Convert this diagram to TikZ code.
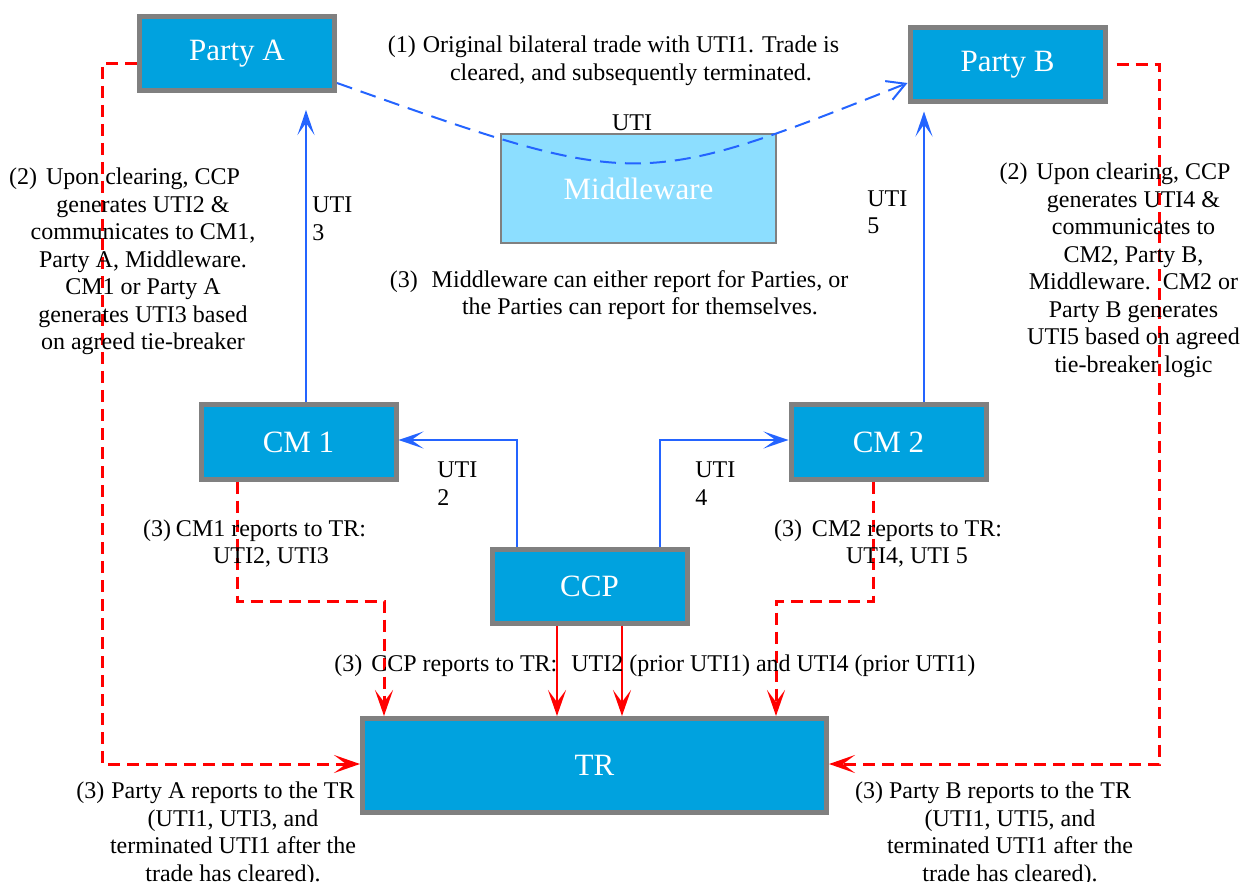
\documentclass[tikz,border=0pt]{standalone}
\usepackage{fontspec}
\setmainfont{Liberation Serif}
\usetikzlibrary{arrows.meta}
\definecolor{boxblue}{RGB}{0,162,223}
\definecolor{mwblue}{RGB}{140,222,255}
\definecolor{bordergrey}{RGB}{128,128,128}
\definecolor{lineblue}{RGB}{36,100,255}
\definecolor{linered}{RGB}{255,0,0}
\begin{document}
\begin{tikzpicture}[x=0.5pt,y=-0.5pt,
  entity/.style={draw=bordergrey, line width=2.5pt, fill=boxblue, text=white,
    font=\fontsize{15.5}{18}\selectfont, minimum width=97.5pt, minimum height=37pt, inner sep=0pt},
  note/.style={inner sep=0pt, align=center, font=\fontsize{12}{13.75}\selectfont},
  utilabel/.style={inner sep=0pt, align=left, anchor=west, font=\fontsize{12}{13.75}\selectfont},
  bluearrow/.style={draw=lineblue, line width=1pt, -{Stealth[length=12.5pt,width=8.5pt,inset=6pt]}},
  bluedash/.style={draw=lineblue, line width=1pt, dash pattern=on 8pt off 4.5pt, -{Straight Barb[length=9pt,width=10pt]}},
  redarrow/.style={draw=linered, line width=1.3pt, -{Stealth[length=13pt,width=9pt,inset=6pt]}},
  reddash/.style={draw=linered, line width=1.5pt, dash pattern=on 6pt off 3.5pt, -{Stealth[length=13pt,width=9pt,inset=6pt]}},
]
\useasboundingbox (0,0) rectangle (1243,882);

% Middleware
\node[draw=bordergrey, line width=1pt, fill=mwblue, text=white, font=\fontsize{15.5}{18}\selectfont,
  minimum width=137.5pt, minimum height=54.5pt, inner sep=0pt] (mw) at (638.5,188.5) {Middleware};

% entities
\node[entity] (pa) at (237,53.5) {Party A};
\node[entity] (pb) at (1007.5,65) {Party B};
\node[entity] (cm1) at (298.5,442) {CM 1};
\node[entity] (cm2) at (888.5,442) {CM 2};
\node[entity] (ccp) at (589.5,586) {CCP};
\node[entity, minimum width=232pt, minimum height=47pt] (tr) at (594.5,765.5) {TR};

% bilateral trade
\draw[bluedash] (pa.east |- 0,83) .. controls (638,190) and (638,190) .. (pb.west |- 0,83);

% blue UTI flows
\draw[bluearrow, shorten >=8.5pt] (cm1.north -| 306,0) -- (pa.south -| 306,0);
\draw[bluearrow, shorten >=3.5pt] (cm2.north -| 924,0) -- (pb.south -| 924,0);
\draw[bluearrow] (ccp.north -| 517,0) |- (cm1.east |- 0,440);
\draw[bluearrow] (ccp.north -| 660,0) |- (cm2.west |- 0,440);

% red reporting
\draw[redarrow] (ccp.south -| 557,0) -- (tr.north -| 557,0);
\draw[redarrow] (ccp.south -| 622,0) -- (tr.north -| 622,0);
\draw[reddash] (cm1.south -| 237,0) |- (384,601) -- (tr.north -| 384,0);
\draw[reddash] (cm2.south -| 873,0) |- (776,601) -- (tr.north -| 776,0);
\draw[reddash] (pa.west |- 0,64) -- (102,64) |- (tr.west |- 0,764);
\draw[reddash, shorten <=4.5pt] (pb.east |- 0,65) -- (1159,65) |- (tr.east |- 0,764);

% labels
\node[note] (uti1) at (632,123) {UTI};
\node[utilabel] (uti3) at (312,219) {UTI\\3};
\node[utilabel] (uti5) at (867,212.5) {UTI\\5};
\node[utilabel] (uti2) at (437,483.5) {UTI\\2};
\node[utilabel] (uti4) at (695,483.5) {UTI\\4};

\node[note] (t1) at (631,61) {\leavevmode\llap{(1)\hspace{3.5pt}}Original bilateral trade with UTI1. Trade is\\cleared, and subsequently terminated.};
\node[note] (t3mw) at (640,295) {\leavevmode\llap{(3)\hspace{7pt}}Middleware can either report for Parties, or\\the Parties can report for themselves.};
\node[note] (t2a) at (143,261.5) {\leavevmode\llap{(2)\hspace{4.5pt}}Upon clearing, CCP\\generates UTI2 \&\\communicates to CM1,\\Party A, Middleware.\\CM1 or Party A\\generates UTI3 based\\on agreed tie-breaker};
\node[note] (t2b) at (1133.5,270.5) {\leavevmode\llap{(2)\hspace{4.5pt}}Upon clearing, CCP\\generates UTI4 \&\\communicates to\\CM2, Party B,\\Middleware.\ \ CM2 or\\Party B generates\\UTI5 based on agreed\\tie-breaker logic};
\node[note] (tcm1) at (271,543.5) {\leavevmode\llap{(3)\hspace{2.5pt}}CM1 reports to TR:\\UTI2, UTI3};
\node[note] (tcm2) at (907,543.5) {\leavevmode\llap{(3)\hspace{5pt}}CM2 reports to TR:\\UTI4, UTI 5};
\node[note, anchor=west] (tccp) at (334,666) {(3)\hspace{4.5pt}CCP reports to TR:\hspace{7pt}UTI2 (prior UTI1) and UTI4 (prior UTI1)};
\node[note] (tpa) at (233,834) {\leavevmode\llap{(3)\hspace{3.5pt}}Party A reports to the TR\\(UTI1, UTI3, and\\terminated UTI1 after the\\trade has cleared).};
\node[note] (tpb) at (1010,834) {\leavevmode\llap{(3)\hspace{3pt}}Party B reports to the TR\\(UTI1, UTI5, and\\terminated UTI1 after the\\trade has cleared).};
\end{tikzpicture}
\end{document}
